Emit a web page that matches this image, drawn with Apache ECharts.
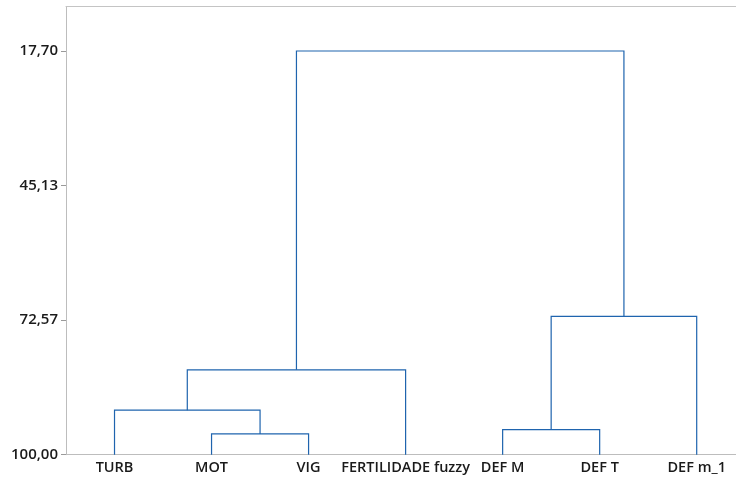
<!DOCTYPE html>
<html>
<head>
<meta charset="utf-8">
<title>Dendrograma</title>
<script src="https://cdn.jsdelivr.net/npm/echarts@6.0.0/dist/echarts.min.js"></script>
<style>
  html, body { margin: 0; padding: 0; background: #fff; }
  #chart { width: 736px; height: 479px; }
</style>
</head>
<body>
<div id="chart"></div>
<script>
// folhas na ordem do dendrograma
var leaves = ['TURB', 'MOT', 'VIG', 'FERTILIDADE fuzzy', 'DEF M', 'DEF T', 'DEF m_1'];
// agrupamentos: [cluster a, cluster b, nível de similaridade]; índices >= 7 são clusters anteriores
var merges = [
  [1, 2, 95.77],
  [4, 5, 94.89],
  [0, 7, 90.93],
  [9, 3, 82.70],
  [8, 6, 71.81],
  [10, 11, 17.70]
];
var yTicks = [17.70, 45.13, 72.57, 100.00];

var nodeX = [], nodeY = [];
leaves.forEach(function (name, i) { nodeX.push(i + 1); nodeY.push(100); });
var segs = [];
merges.forEach(function (m) {
  var a = m[0], b = m[1], h = m[2];
  segs.push([nodeX[a], nodeY[a], nodeX[b], nodeY[b], h]);
  nodeX.push((nodeX[a] + nodeX[b]) / 2);
  nodeY.push(h);
});

var chart = echarts.init(document.getElementById('chart'));
var lbl = { color: '#1a1a1a', fontFamily: 'Open Sans', fontWeight: 600 };
chart.setOption({
  animation: false,
  grid: { left: 66, right: 0, top: 6.5, bottom: 24.3 },
  xAxis: [{
    type: 'value', min: 0.5, max: 7.405,
    splitLine: { show: false },
    axisLine: { lineStyle: { color: '#bdbdbd' } },
    axisTick: { show: false },
    axisLabel: Object.assign({
      customValues: leaves.map(function (n, i) { return i + 1; }),
      formatter: function (v) { return leaves[Math.round(v) - 1]; },
      fontSize: 14.5,
      margin: 6
    }, lbl)
  }, {
    type: 'value', position: 'top', min: 0.5, max: 7.405,
    splitLine: { show: false },
    axisLine: { show: true, lineStyle: { color: '#c4c4c4' } },
    axisTick: { show: false },
    axisLabel: { show: false }
  }],
  yAxis: {
    type: 'value', inverse: true, min: 8.63, max: 100,
    splitLine: { show: false },
    axisLine: { show: true, lineStyle: { color: '#bdbdbd' } },
    axisTick: { show: true, length: 5, customValues: yTicks, lineStyle: { color: '#9a9a9a' } },
    axisLabel: Object.assign({
      customValues: yTicks,
      formatter: function (v) { return v.toFixed(2).replace('.', ','); },
      fontSize: 15,
      margin: 8
    }, lbl)
  },
  series: [{
    type: 'custom',
    data: segs,
    encode: { x: [0, 2], y: [1, 3, 4] },
    renderItem: function (params, api) {
      var x1 = api.value(0), y1 = api.value(1), x2 = api.value(2), y2 = api.value(3), h = api.value(4);
      var pts = [api.coord([x1, y1]), api.coord([x1, h]), api.coord([x2, h]), api.coord([x2, y2])];
      return {
        type: 'polyline',
        shape: { points: pts },
        style: { stroke: '#1f64ae', lineWidth: 1.2, fill: null }
      };
    }
  }]
});
</script>
</body>
</html>
